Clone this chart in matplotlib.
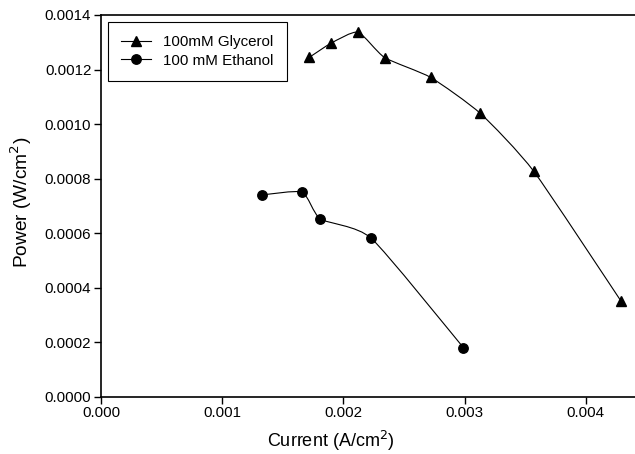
import matplotlib
matplotlib.use("Agg")
import matplotlib.pyplot as plt
import numpy as np
from matplotlib.path import Path
from matplotlib.patches import PathPatch

plt.rcParams['font.family'] = ['Liberation Sans', 'DejaVu Sans']

# current density (A/cm2) and power density (W/cm2)
glycerol_current = [0.00172, 0.00190, 0.00212, 0.00234, 0.00272, 0.00313, 0.00357, 0.00429]
glycerol_power = [0.001245, 0.001297, 0.001337, 0.001244, 0.001171, 0.001039, 0.000827, 0.000351]

ethanol_current = [0.00133, 0.00166, 0.00181, 0.00223, 0.00299]
ethanol_power = [0.00074, 0.00075, 0.000652, 0.000581, 0.00018]


def smooth_path(xs, ys, k=0.1):
    # cardinal spline (bezier form) through the measured points
    pts = np.column_stack([xs, ys])
    verts = [pts[0]]
    codes = [Path.MOVETO]
    n = len(pts)
    for i in range(n - 1):
        p0 = pts[i - 1] if i > 0 else pts[i]
        p1 = pts[i]
        p2 = pts[i + 1]
        p3 = pts[i + 2] if i + 2 < n else pts[i + 1]
        c1 = p1 + (p2 - p0) * k
        c2 = p2 - (p3 - p1) * k
        verts += [c1, c2, p2]
        codes += [Path.CURVE4] * 3
    return Path(verts, codes)


fig = plt.figure(figsize=(6.35, 4.54), dpi=100)
ax = fig.add_axes([101 / 635, 1 - 396.7 / 454, 545.4 / 635, 381.7 / 454])

for xs, ys in [(glycerol_current, glycerol_power), (ethanol_current, ethanol_power)]:
    ax.add_patch(PathPatch(smooth_path(xs, ys), facecolor='none', edgecolor='black', lw=0.8))

ax.plot(glycerol_current, glycerol_power, linestyle='none', marker='^', ms=7.3, color='black')
ax.plot(ethanol_current, ethanol_power, linestyle='none', marker='o', ms=6.8, color='black')

# legend proxies with line through marker
ax.plot([], [], '-', marker='^', ms=7.3, color='black', lw=0.8, label='100mM Glycerol')
ax.plot([], [], '-', marker='o', ms=6.8, color='black', lw=0.8, label='100 mM Ethanol')

ax.set_xlim(0, 0.0045)
ax.set_ylim(0, 0.0014)
ax.set_xticks([0.000, 0.001, 0.002, 0.003, 0.004])
ax.set_xticklabels(['0.000', '0.001', '0.002', '0.003', '0.004'])
ax.set_yticks(np.arange(0, 0.00141, 0.0002))
ax.set_yticklabels(['%.4f' % v for v in np.arange(0, 0.00141, 0.0002)])
ax.tick_params(direction='out', length=5, width=1, labelsize=10.9, pad=2)

for s in ax.spines.values():
    s.set_linewidth(1.2)

ax.set_xlabel('Current (A/cm$^2$)', fontsize=13)
ax.set_ylabel('Power (W/cm$^2$)', fontsize=13.8)
ax.xaxis.set_label_coords(0.422, -0.085)
ax.yaxis.set_label_coords(-0.123, 0.51)

leg = ax.legend(loc='upper left', bbox_to_anchor=(0.013, 0.981), fontsize=10.9,
                frameon=True, fancybox=False, framealpha=1, edgecolor='black',
                handlelength=2.0, borderpad=0.85, labelspacing=0.3, handletextpad=0.8,
                borderaxespad=0)
leg.get_frame().set_linewidth(0.8)

fig.savefig('out.png', dpi=100)
